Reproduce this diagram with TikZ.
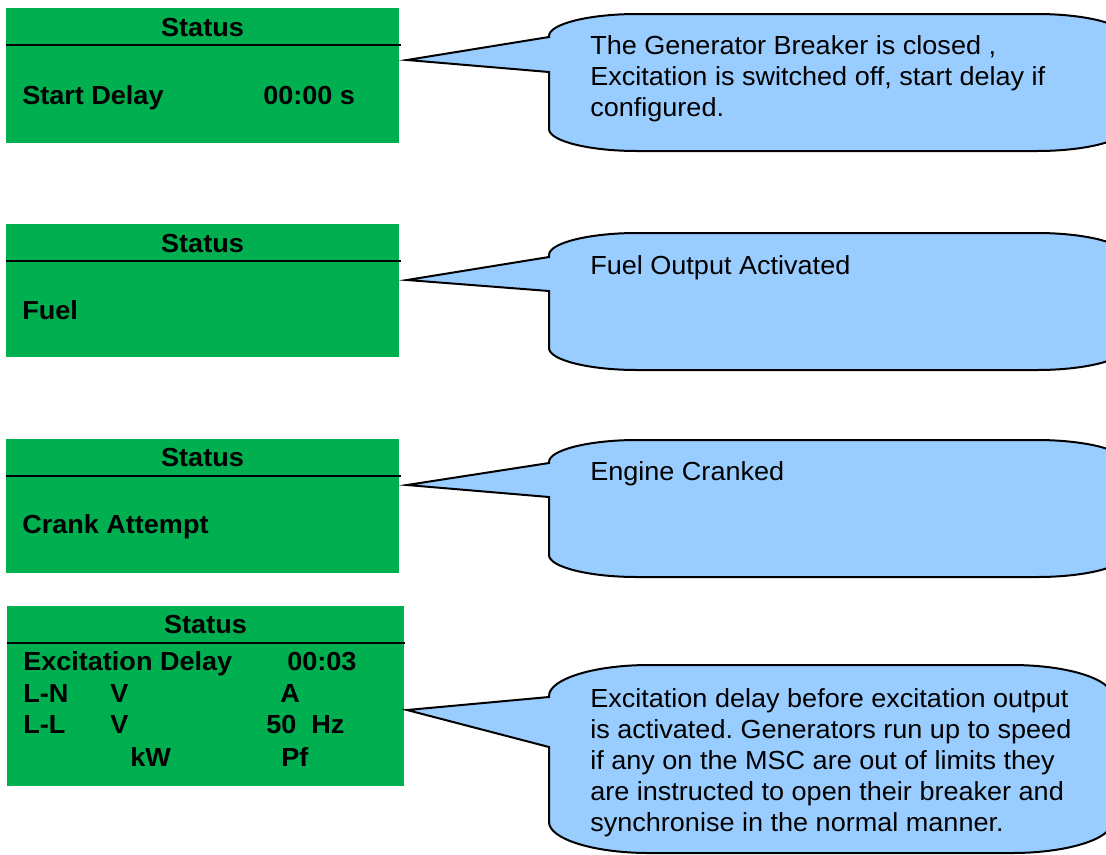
\documentclass[tikz,border=0pt]{standalone}
\usepackage{fontspec}
\setmainfont[FakeStretch=1.035]{Liberation Sans}
\frenchspacing
\definecolor{boxgreen}{HTML}{00B050}
\definecolor{callblue}{HTML}{99CCFF}
\newcommand{\bigtxt}{\fontsize{19.6}{23.4}\selectfont}
\tikzset{
  greenbox/.style={fill=boxgreen, draw=none},
  sepline/.style={line width=1.5pt, black},
  callshape/.style={fill=callblue, draw=black, line width=1.5pt, line join=miter},
  stat/.style={anchor=base, inner sep=0pt, font=\bigtxt\bfseries},
  lbl/.style={anchor=base west, inner sep=0pt, font=\bigtxt\bfseries},
  note/.style={anchor=base west, inner sep=0pt, font=\bigtxt},
}
\newcommand{\notetext}[1]{\parbox[t]{420pt}{\raggedright\bigtxt #1}}
\begin{document}
\begin{tikzpicture}[x=0.75pt, y=-0.75pt]
\useasboundingbox (0,0) rectangle (1106,854);
\clip (0,0) rectangle (1106,854);

% ---------- Box 1 ----------
\path[greenbox] (6,8) rectangle (399,143);
\coordinate (b1l) at (6,45); \coordinate (b1r) at (401,45);
\draw[sepline] (b1l) -- (b1r);
\node[stat] (s1) at (202.5,36) {Status};
\node[lbl] (sd) at (22,104) {Start Delay};
\node[lbl] (sdv) at (263,104) {00:00 s};

% ---------- Box 2 ----------
\path[greenbox] (6,224) rectangle (399,357);
\coordinate (b2l) at (6,261); \coordinate (b2r) at (401,261);
\draw[sepline] (b2l) -- (b2r);
\node[stat] (s2) at (202.5,252) {Status};
\node[lbl] (fu) at (22,319) {Fuel};

% ---------- Box 3 ----------
\path[greenbox] (6,439) rectangle (399,573);
\coordinate (b3l) at (6,475.5); \coordinate (b3r) at (401,475.5);
\draw[sepline] (b3l) -- (b3r);
\node[stat] (s3) at (202.5,466) {Status};
\node[lbl] (ca) at (22,533) {Crank Attempt};

% ---------- Box 4 ----------
\path[greenbox] (7,606) rectangle (404,786);
\coordinate (b4l) at (7,643); \coordinate (b4r) at (405,643);
\draw[sepline] (b4l) -- (b4r);
\node[stat] (s4) at (205.5,633) {Status};
\node[lbl] (ed)  at (23,670) {Excitation Delay};
\node[lbl] (edv) at (287,670) {00:03};
\node[lbl] (ln)  at (23,702) {L-N};
\node[lbl] (lnv) at (110,702) {V};
\node[lbl] (lna) at (280,702) {A};
\node[lbl] (ll)  at (23,733) {L-L};
\node[lbl] (llv) at (110,733) {V};
\node[lbl] (llh) at (266,733) {50\ \ Hz};
\node[lbl] (kw)  at (130,766) {kW};
\node[lbl] (pf)  at (281,766) {Pf};

% ---------- Callout 1 ----------
\draw[callshape] (549,37) -- (407,60) -- (549,72) -- (549,129)
  .. controls (549,141) and (589,151) .. (637,151) -- (1037,151)
  .. controls (1085,151) and (1125,141) .. (1125,129) -- (1125,36)
  .. controls (1125,24) and (1085,14) .. (1037,14) -- (637,14)
  .. controls (589,14) and (549,24) .. (549,36) -- cycle;
\node[note] (c1) at (590,54) {\notetext{The Generator Breaker is closed ,\\ Excitation is switched off, start delay if\\ configured.}};

% ---------- Callout 2 ----------
\draw[callshape] (549,257) -- (407,280) -- (549,291) -- (549,348)
  .. controls (549,360) and (589,370) .. (637,370) -- (1037,370)
  .. controls (1085,370) and (1125,360) .. (1125,348) -- (1125,255)
  .. controls (1125,243) and (1085,233) .. (1037,233) -- (637,233)
  .. controls (589,233) and (549,243) .. (549,255) -- cycle;
\node[note] (c2) at (590,274) {Fuel Output Activated};

% ---------- Callout 3 ----------
\draw[callshape] (549,463) -- (407,485) -- (549,497) -- (549,555)
  .. controls (549,567) and (589,577) .. (637,577) -- (1037,577)
  .. controls (1085,577) and (1125,567) .. (1125,555) -- (1125,462)
  .. controls (1125,450) and (1085,440) .. (1037,440) -- (637,440)
  .. controls (589,440) and (549,450) .. (549,462) -- cycle;
\node[note] (c3) at (590,480) {Engine Cranked};

% ---------- Callout 4 ----------
\draw[callshape] (549,697) -- (407,710) -- (549,747) -- (549,822)
  .. controls (549,839) and (594,853) .. (649,853) -- (1012,853)
  .. controls (1067,853) and (1112,839) .. (1112,822) -- (1112,696)
  .. controls (1112,679) and (1067,665) .. (1012,665) -- (649,665)
  .. controls (594,665) and (549,679) .. (549,696) -- cycle;
\node[note] (c4) at (590,707) {\notetext{Excitation delay before excitation output\\ is activated. Generators run up to speed\\ if any on the MSC are out of limits they\\ are instructed to open their breaker and\\ synchronise in the normal manner.}};
\end{tikzpicture}
\end{document}
